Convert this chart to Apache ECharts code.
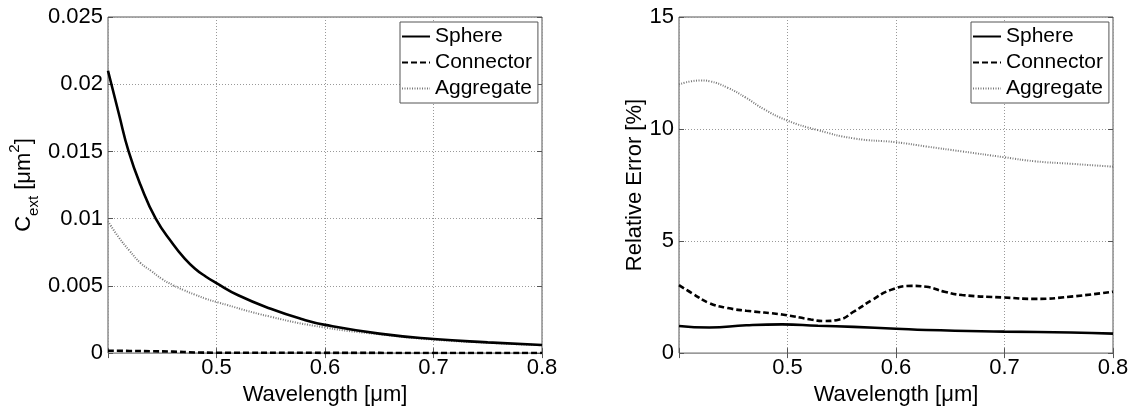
<!DOCTYPE html>
<html><head><meta charset="utf-8">
<script src="https://cdn.jsdelivr.net/npm/echarts@6/dist/echarts.min.js"></script>
<style>html,body{margin:0;padding:0;background:#fff}#c{width:1132px;height:411px}</style>
</head><body><div id="c"></div>
<script>
// Left panel: extinction cross section C_ext [um^2] vs wavelength [um]
const cextSphereX = [0.40,0.41,0.419,0.43,0.444,0.46,0.47,0.48,0.49,0.50,0.52,0.55,0.58,0.60,0.65,0.70,0.75,0.80];
const cextSphereY = [0.0210,0.0178,0.0150,0.0125,0.0100,0.0081,0.0071,0.0063,0.0057,0.0052,0.0043,0.0033,0.0025,0.0021,0.00145,0.00105,0.00080,0.00060];
const cextConnX = [0.40,0.42,0.44,0.46,0.48,0.50,0.60,0.70,0.80];
const cextConnY = [0.00018,0.00016,0.00014,0.00011,0.00005,0.00003,0.00002,0.00001,0.00001];
const cextAggX = [0.40,0.41,0.42,0.43,0.44,0.45,0.46,0.47,0.48,0.49,0.50,0.55,0.60,0.65,0.70,0.75,0.80];
const cextAggY = [0.0098,0.0086,0.0076,0.0067,0.0061,0.0055,0.00505,0.00468,0.00435,0.00405,0.0038,0.0027,0.0019,0.0014,0.0010,0.00077,0.00058];
// Right panel: relative error [%] vs wavelength [um]
const errSphereX = [0.40,0.428,0.462,0.495,0.528,0.561,0.60,0.628,0.70,0.761,0.80];
const errSphereY = [1.21,1.14,1.24,1.28,1.22,1.17,1.09,1.03,0.96,0.92,0.87];
const errConnX = [0.40,0.412,0.428,0.445,0.462,0.495,0.5215,0.533,0.548,0.5614,0.578,0.5947,0.6146,0.628,0.6446,0.661,0.70,0.728,0.761,0.80];
const errConnY = [3.03,2.67,2.23,2.01,1.89,1.72,1.50,1.43,1.50,1.86,2.37,2.81,3.00,2.96,2.74,2.59,2.48,2.42,2.52,2.74];
const errAggX = [0.40,0.42,0.4283,0.445,0.4616,0.4782,0.4998,0.528,0.5614,0.60,0.628,0.661,0.70,0.728,0.761,0.80];
const errAggY = [11.99,12.17,12.13,11.84,11.40,10.89,10.38,9.95,9.58,9.41,9.22,9.00,8.74,8.56,8.45,8.32];
const seriesNames = ['Sphere','Connector','Aggregate'];

const FONT = 'Liberation Sans';
const FS = 22;
const pairs = (xs, ys) => xs.map((x,i)=>[x,ys[i]]);
const xFmt = v => (Math.abs(v-0.4)<1e-9 ? '' : String(+v.toFixed(2)));
const gridLine = {show:true,lineStyle:{type:[1,2],color:'#999',width:1}};
const tick = {show:true,inside:true,length:5,lineStyle:{color:'#555'}};
function xAx(gi){
  return {type:'value',gridIndex:gi,min:0.4,max:0.8,interval:0.1,
    axisLine:{show:false},axisTick:tick,
    axisLabel:{color:'#000',fontFamily:FONT,fontSize:FS,margin:4,formatter:xFmt},
    splitLine:gridLine,
    name:'Wavelength [μm]',nameLocation:'middle',nameGap:27,
    nameTextStyle:{color:'#000',fontFamily:FONT,fontSize:FS}};
}
function xTop(gi){
  return {type:'value',gridIndex:gi,position:'top',min:0.4,max:0.8,interval:0.1,
    axisLine:{show:false},axisTick:tick,axisLabel:{show:false},splitLine:{show:false}};
}
function yRight(gi,max,iv){
  return {type:'value',gridIndex:gi,position:'right',min:0,max:max,interval:iv,
    axisLine:{show:false},axisTick:tick,axisLabel:{show:false},splitLine:{show:false}};
}
const styles = [
  {color:'#000',width:2.6,type:'solid'},
  {color:'#000',width:2.6,type:[6,3]},
  {color:'#777',width:2,type:[1,1.5]}
];
function ser(name,xi,yi,data,st){
  return {type:'line',name:name,xAxisIndex:xi,yAxisIndex:yi,data:data,smooth:true,
    symbol:'none',lineStyle:st,itemStyle:{color:st.color},z:st.color==='#777'?2:3};
}
const legendBase = {orient:'vertical',top:22,itemWidth:28,itemHeight:14,itemGap:5,
  padding:[4,6,4,1],borderColor:'#555',borderWidth:1,backgroundColor:'#fff',
  itemStyle:{opacity:0},
  textStyle:{color:'#000',fontFamily:FONT,fontSize:21},data:seriesNames};

const chart = echarts.init(document.getElementById('c'));
chart.setOption({
  animation:false,
  backgroundColor:'#fff',
  grid:[
    {left:108,top:17,width:434,height:342,show:true,borderColor:'#555',borderWidth:1},
    {left:679,top:17,width:434,height:342,show:true,borderColor:'#555',borderWidth:1}
  ],
  legend:[
    Object.assign({},legendBase,{left:400}),
    Object.assign({},legendBase,{left:971})
  ],
  xAxis:[xAx(0),xAx(1),xTop(0),xTop(1)],
  yAxis:[
    {type:'value',gridIndex:0,min:0,max:0.025,interval:0.005,
      axisLine:{show:false},axisTick:tick,
      axisLabel:{color:'#000',fontFamily:FONT,fontSize:FS,margin:5},
      splitLine:gridLine,
      name:'{b|C}{s|ext}{b| [μm}{p|2}{b|]}',nameLocation:'middle',nameGap:67,nameRotate:90,
      nameTextStyle:{color:'#000',fontFamily:FONT,fontSize:FS,
        rich:{b:{fontFamily:FONT,fontSize:FS,color:'#000',lineHeight:34,verticalAlign:'middle'},
              s:{fontFamily:FONT,fontSize:15,color:'#000',lineHeight:34,verticalAlign:'bottom'},
              p:{fontFamily:FONT,fontSize:15,color:'#000',lineHeight:34,verticalAlign:'top'}}}},
    {type:'value',gridIndex:1,min:0,max:15,interval:5,
      axisLine:{show:false},axisTick:tick,
      axisLabel:{color:'#000',fontFamily:FONT,fontSize:FS,margin:5},
      splitLine:gridLine,
      name:'Relative Error [%]',nameLocation:'middle',nameGap:30,nameRotate:90,
      nameTextStyle:{color:'#000',fontFamily:FONT,fontSize:FS}},
    yRight(0,0.025,0.005),yRight(1,15,5)
  ],
  series:[
    ser('Sphere',0,0,pairs(cextSphereX,cextSphereY),styles[0]),
    ser('Connector',0,0,pairs(cextConnX,cextConnY),styles[1]),
    ser('Aggregate',0,0,pairs(cextAggX,cextAggY),styles[2]),
    ser('Sphere',1,1,pairs(errSphereX,errSphereY),styles[0]),
    ser('Connector',1,1,pairs(errConnX,errConnY),styles[1]),
    ser('Aggregate',1,1,pairs(errAggX,errAggY),styles[2])
  ]
});
</script></body></html>
